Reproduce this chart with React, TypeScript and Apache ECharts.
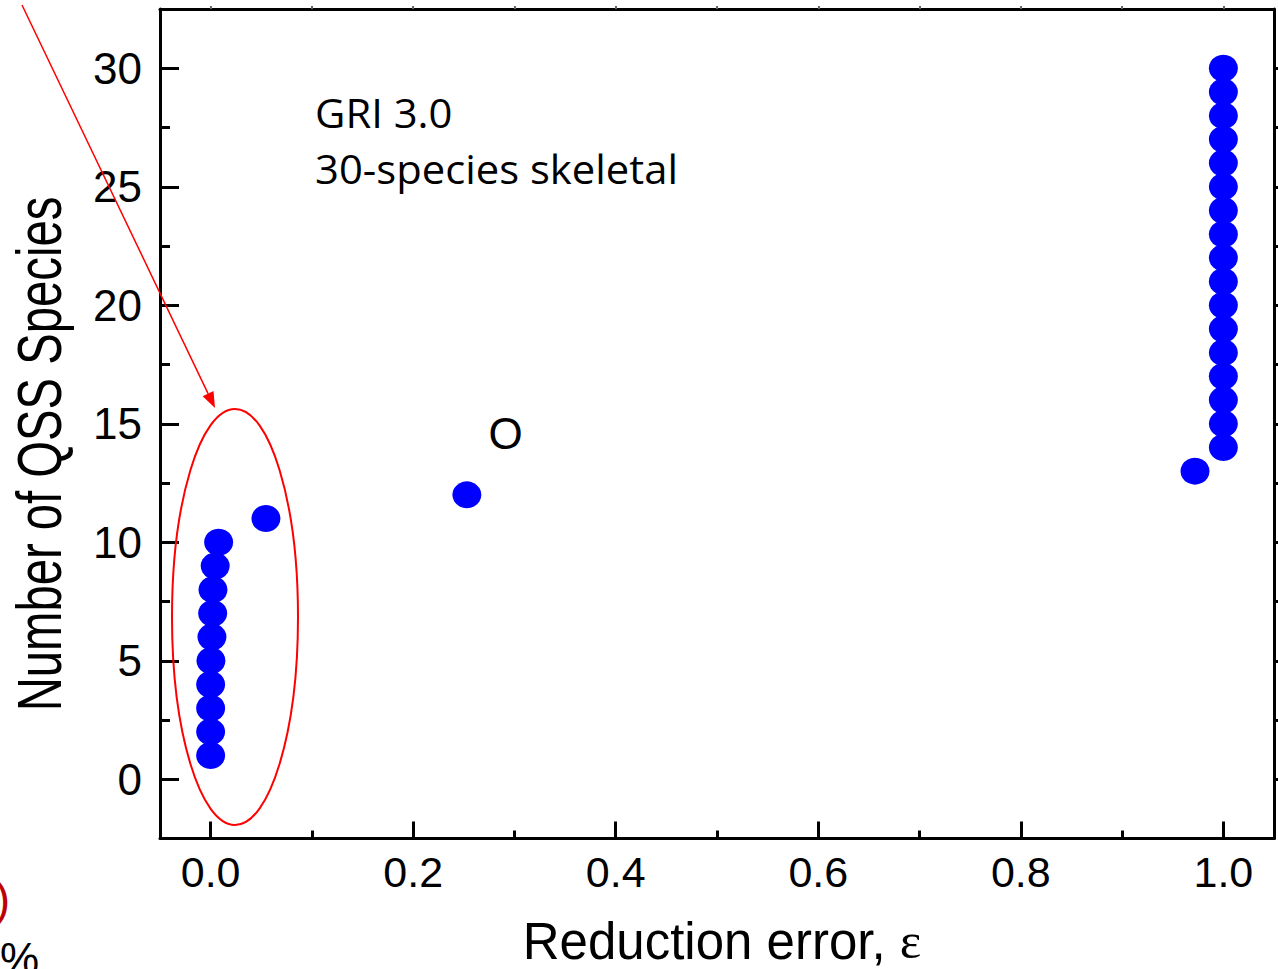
import React, { useEffect, useRef } from "react";
import * as echarts from "echarts";

// Data: reduction error (x) vs number of QSS species (y)
const reductionError = [
  0, 0, 0, 0, 0.0003, 0.0013, 0.002, 0.0023, 0.0045, 0.0079,
  0.0546, 0.253, 0.972,
  1, 1, 1, 1, 1, 1, 1, 1, 1, 1, 1, 1, 1, 1, 1, 1, 1,
];
const qssSpecies = [
  1, 2, 3, 4, 5, 6, 7, 8, 9, 10,
  11, 12, 13,
  14, 15, 16, 17, 18, 19, 20, 21, 22, 23, 24, 25, 26, 27, 28, 29, 30,
];

const xMajorTicks = [0, 0.2, 0.4, 0.6, 0.8, 1.0];
const xMinorTicks = [0.1, 0.3, 0.5, 0.7, 0.9];
const yMajorTicks = [0, 5, 10, 15, 20, 25, 30];
const yMinorTicks = [2.5, 7.5, 12.5, 17.5, 22.5, 27.5];

const xTitle = "Reduction error, ";
const xTitleSymbol = "ε";
const yTitle = "Number of QSS Species";
const noteLines = ["GRI 3.0", "30-species skeletal"];
const markO = "O";

export default function App() {
  const ref = useRef<HTMLDivElement>(null);

  useEffect(() => {
    document.body.style.margin = "0";
    if (!ref.current) return;
    const chart = echarts.init(ref.current, null, { renderer: "svg" });

    const sans = "Liberation Sans";
    const black = "#000000";

    const tip = [215, 408];
    const tail = [22, 5];
    const dx = tip[0] - tail[0];
    const dy = tip[1] - tail[1];
    const len = Math.sqrt(dx * dx + dy * dy);
    const ux = dx / len;
    const uy = dy / len;
    const headLen = 16;
    const headHalf = 6;
    const bx = tip[0] - ux * headLen;
    const by = tip[1] - uy * headLen;

    const allX = [...xMajorTicks, ...xMinorTicks];
    const allY = [...yMajorTicks, ...yMinorTicks];

    chart.setOption({
      animation: false,
      backgroundColor: "#ffffff",
      grid: { left: 160, right: 4, top: 9, bottom: 130.5, containLabel: false },
      xAxis: [
        {
          type: "value",
          min: -0.05,
          max: 1.05,
          position: "bottom",
          axisLine: { show: true, onZero: false, lineStyle: { color: black, width: 3 } },
          axisTick: {
            show: true,
            inside: true,
            length: 17,
            customValues: xMajorTicks,
            lineStyle: { color: black, width: 3 },
          },
          axisLabel: {
            show: true,
            customValues: xMajorTicks,
            formatter: (v: number) => v.toFixed(1),
            fontSize: 43,
            fontFamily: sans,
            color: black,
            margin: 12,
          },
          splitLine: { show: false },
        },
        {
          type: "value",
          min: -0.05,
          max: 1.05,
          position: "bottom",
          axisLine: { show: false, onZero: false },
          axisTick: {
            show: true,
            inside: true,
            length: 8,
            customValues: xMinorTicks,
            lineStyle: { color: black, width: 3 },
          },
          axisLabel: { show: false },
          splitLine: { show: false },
        },
        {
          type: "value",
          min: -0.05,
          max: 1.05,
          position: "top",
          axisLine: { show: true, onZero: false, lineStyle: { color: black, width: 3 } },
          axisTick: {
            show: true,
            inside: false,
            length: 3,
            customValues: allX,
            lineStyle: { color: "#666666", width: 2 },
          },
          axisLabel: { show: false },
          splitLine: { show: false },
        },
      ],
      yAxis: [
        {
          type: "value",
          min: -2.5,
          max: 32.5,
          position: "left",
          axisLine: { show: true, onZero: false, lineStyle: { color: black, width: 3 } },
          axisTick: {
            show: true,
            inside: true,
            length: 19,
            customValues: yMajorTicks,
            lineStyle: { color: black, width: 3 },
          },
          axisLabel: {
            show: true,
            customValues: yMajorTicks,
            fontSize: 44,
            fontFamily: sans,
            color: black,
            margin: 18,
          },
          splitLine: { show: false },
        },
        {
          type: "value",
          min: -2.5,
          max: 32.5,
          position: "left",
          axisLine: { show: false, onZero: false },
          axisTick: {
            show: true,
            inside: true,
            length: 10,
            customValues: yMinorTicks,
            lineStyle: { color: black, width: 3 },
          },
          axisLabel: { show: false },
          splitLine: { show: false },
        },
        {
          type: "value",
          min: -2.5,
          max: 32.5,
          position: "right",
          axisLine: { show: true, onZero: false, lineStyle: { color: black, width: 3 } },
          axisTick: {
            show: true,
            inside: false,
            length: 5,
            customValues: allY,
            lineStyle: { color: black, width: 3 },
          },
          axisLabel: { show: false },
          splitLine: { show: false },
        },
      ],
      series: [
        {
          type: "scatter",
          xAxisIndex: 0,
          yAxisIndex: 0,
          symbol: "circle",
          symbolSize: [29, 27],
          itemStyle: { color: "#0000ff", opacity: 1 },
          data: reductionError.map((x, i) => [x, qssSpecies[i]]),
          z: 3,
        },
      ],
      graphic: [
        {
          type: "text",
          x: 722,
          y: 941,
          z: 10,
          style: {
            text: `{a|${xTitle}}{b|${xTitleSymbol}}`,
            align: "center",
            verticalAlign: "middle",
            rich: {
              a: { fontSize: 51, fontFamily: sans, fill: black, color: black },
              b: { fontSize: 51, fontFamily: "Liberation Serif", fill: black, color: black },
            },
          },
        },
        {
          type: "text",
          x: 40,
          y: 454,
          rotation: Math.PI / 2,
          scaleX: 0.75,
          z: 10,
          style: {
            text: yTitle,
            fontSize: 63,
            fontFamily: sans,
            fill: black,
            align: "center",
            verticalAlign: "middle",
          },
        },
        {
          type: "text",
          x: 315,
          y: 112,
          scaleX: 1.045,
          z: 10,
          style: {
            text: noteLines[0],
            fontSize: 40,
            fontFamily: "Open Sans",
            fill: black,
            align: "left",
            verticalAlign: "middle",
          },
        },
        {
          type: "text",
          x: 315,
          y: 168,
          scaleX: 1.045,
          z: 10,
          style: {
            text: noteLines[1],
            fontSize: 40,
            fontFamily: "Open Sans",
            fill: black,
            align: "left",
            verticalAlign: "middle",
          },
        },
        {
          type: "text",
          x: 505.5,
          y: 433,
          z: 10,
          style: {
            text: markO,
            fontSize: 44,
            fontFamily: sans,
            fill: black,
            align: "center",
            verticalAlign: "middle",
          },
        },
        {
          type: "text",
          x: 10,
          y: 899,
          z: 10,
          style: {
            text: ")",
            fontSize: 46,
            fontFamily: sans,
            fill: "#c00000",
            align: "right",
            verticalAlign: "middle",
          },
        },
        {
          type: "text",
          x: 0,
          y: 958,
          z: 10,
          style: {
            text: "%",
            fontSize: 44,
            fontFamily: sans,
            fill: black,
            align: "left",
            verticalAlign: "middle",
          },
        },
        {
          type: "line",
          z: 10,
          shape: { x1: tail[0], y1: tail[1], x2: bx, y2: by },
          style: { stroke: "#ff0000", lineWidth: 1.5 },
        },
        {
          type: "polygon",
          z: 10,
          shape: {
            points: [
              [tip[0], tip[1]],
              [bx - uy * headHalf, by + ux * headHalf],
              [bx + uy * headHalf, by - ux * headHalf],
            ],
          },
          style: { fill: "#ff0000" },
        },
        {
          type: "ellipse",
          z: 10,
          shape: { cx: 235, cy: 617, rx: 63, ry: 208 },
          style: { fill: "none", stroke: "#ff0000", lineWidth: 2 },
        },
      ],
    });

    return () => chart.dispose();
  }, []);

  return <div ref={ref} style={{ width: 1278, height: 969 }} />;
}
